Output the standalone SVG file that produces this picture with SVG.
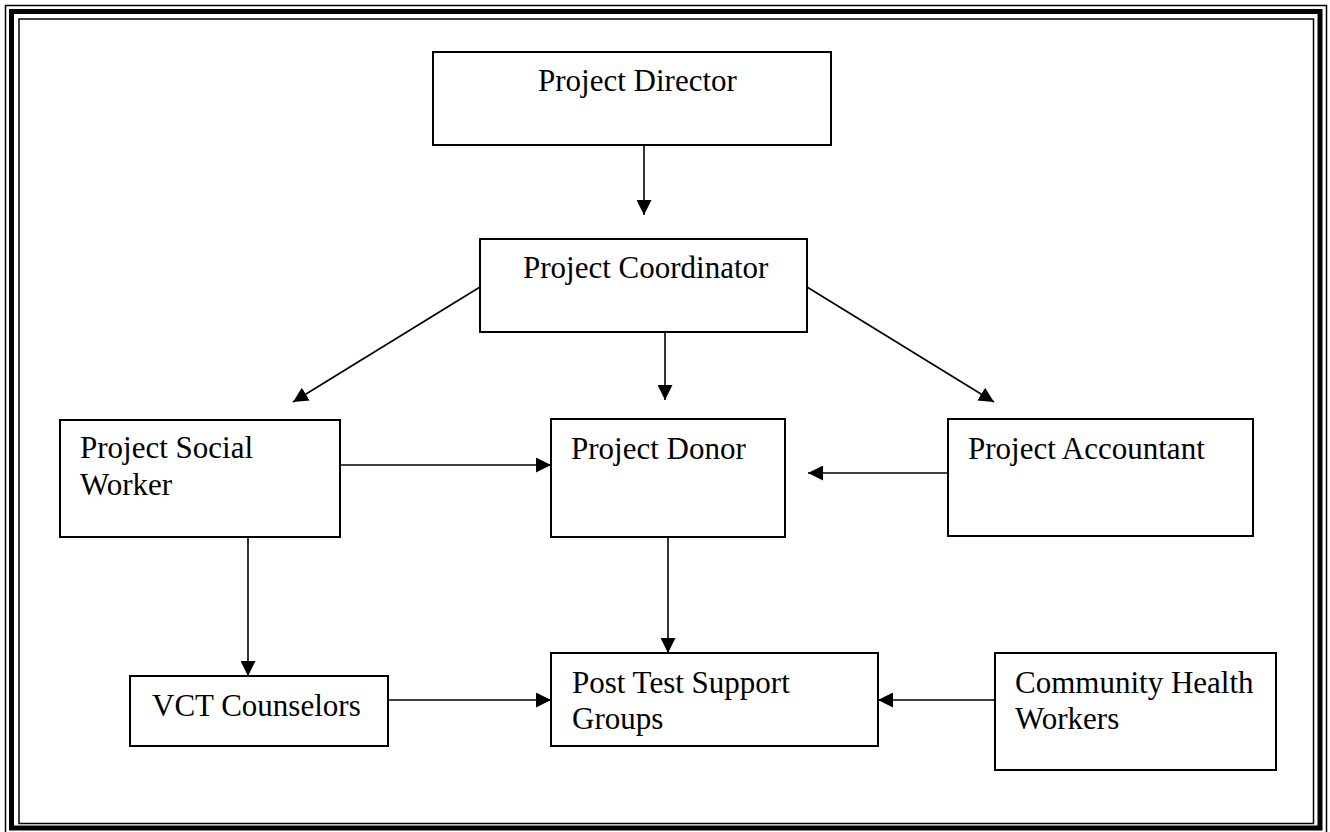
<svg xmlns="http://www.w3.org/2000/svg" width="1330" height="832" viewBox="0 0 1330 832">
<defs>
<style>
.box{fill:#fff;stroke:#000;stroke-width:2}
.t{font-family:"Liberation Serif","Times New Roman",serif;font-size:31px;fill:#000}
.c{stroke:#000;stroke-width:1.6;fill:none;marker-end:url(#ah)}
</style>
<marker id="ah" markerUnits="userSpaceOnUse" markerWidth="15" markerHeight="15" refX="15" refY="7.5" orient="auto">
<path d="M0,0 L15,7.5 L0,15 z" fill="#000"/>
</marker>
</defs>
<rect width="1330" height="832" fill="#fff"/>
<g id="frame" fill="none" stroke="#000">
<rect x="5.5" y="5.5" width="1321" height="830" stroke-width="1.5"/>
<rect x="11.5" y="11.5" width="1308.5" height="816.5" stroke-width="5"/>
<rect x="19" y="19" width="1294.5" height="804.5" stroke-width="1.5"/>
</g>
<g id="connectors">
<line class="c" x1="644" y1="146" x2="644" y2="215"/>
<line class="c" x1="480" y1="287" x2="293" y2="402"/>
<line class="c" x1="665" y1="332" x2="665" y2="400"/>
<line class="c" x1="807" y1="287" x2="994" y2="402"/>
<line class="c" x1="341" y1="465" x2="551" y2="465"/>
<line class="c" x1="948" y1="473" x2="808" y2="473"/>
<line class="c" x1="248" y1="537" x2="248" y2="676"/>
<line class="c" x1="668" y1="537" x2="668" y2="653"/>
<line class="c" x1="388" y1="700" x2="551" y2="700"/>
<line class="c" x1="995" y1="700" x2="878" y2="700"/>
</g>
<g id="director"><rect class="box" x="433" y="52" width="398" height="93"/><text class="t" x="538" y="91">Project Director</text></g>
<g id="coordinator"><rect class="box" x="480" y="239" width="327" height="93"/><text class="t" x="523" y="278">Project Coordinator</text></g>
<g id="social-worker"><rect class="box" x="60" y="420" width="280" height="117"/><text class="t" x="80" y="458">Project Social</text><text class="t" x="80" y="495">Worker</text></g>
<g id="donor"><rect class="box" x="551" y="419" width="234" height="118"/><text class="t" x="571" y="459">Project Donor</text></g>
<g id="accountant"><rect class="box" x="948" y="419" width="305" height="117"/><text class="t" x="968" y="459">Project Accountant</text></g>
<g id="vct"><rect class="box" x="130" y="676" width="258" height="70"/><text class="t" x="152" y="716">VCT Counselors</text></g>
<g id="post-test"><rect class="box" x="551" y="653" width="327" height="93"/><text class="t" x="572" y="693">Post Test Support</text><text class="t" x="572" y="729">Groups</text></g>
<g id="chw"><rect class="box" x="995" y="653" width="281" height="117"/><text class="t" x="1015" y="693">Community Health</text><text class="t" x="1015" y="729">Workers</text></g>
</svg>
